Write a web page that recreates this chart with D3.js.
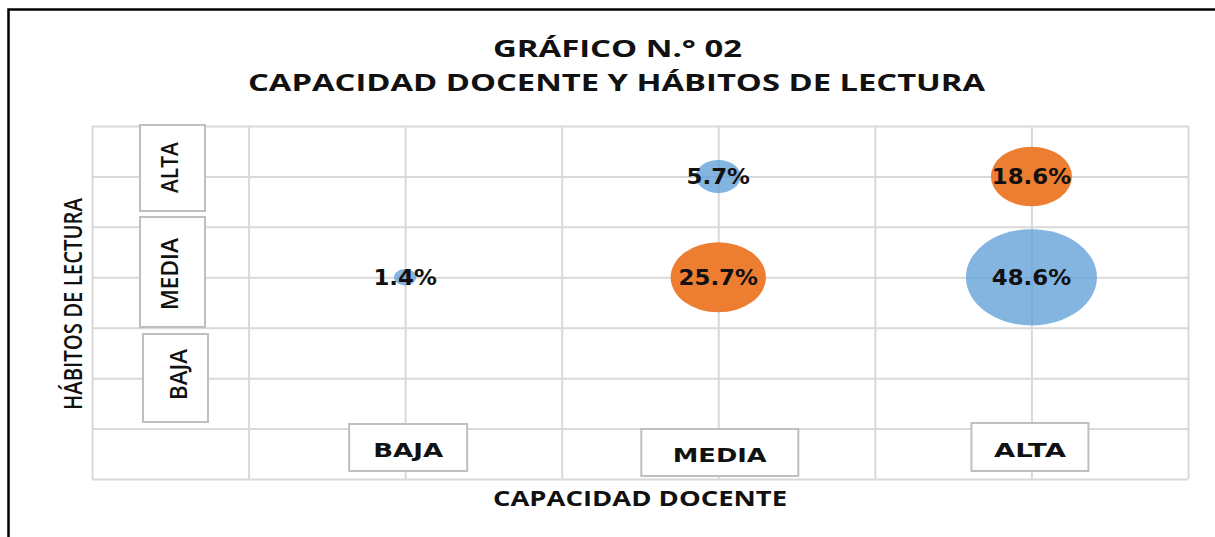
<!DOCTYPE html>
<html>
<head>
<meta charset="utf-8">
<script src="https://cdn.jsdelivr.net/npm/d3@7"></script>
<style>
  body { margin: 0; background: #fff; }
  svg { display: block; }
</style>
</head>
<body>
<div id="chart"></div>
<script>
// --- data ---
const capacidadCats = ["BAJA", "MEDIA", "ALTA"];   // x categories (positions 1..3)
const habitosCats = ["BAJA", "MEDIA", "ALTA"];     // y categories (positions 1..3)
const gridTicks = [0, 0.5, 1, 1.5, 2, 2.5, 3, 3.5];

// blue series (semi transparent) and orange series
const serieAzul = [
  { cap: "BAJA", hab: "MEDIA", value: 1.4 },
  { cap: "MEDIA", hab: "ALTA", value: 5.7 },
  { cap: "ALTA", hab: "MEDIA", value: 48.6 }
];
const serieNaranja = [
  { cap: "MEDIA", hab: "MEDIA", value: 25.7 },
  { cap: "ALTA", hab: "ALTA", value: 18.6 }
];

const titleLines = ["GRÁFICO N.° 02", "CAPACIDAD DOCENTE Y HÁBITOS DE LECTURA"];
const xTitle = "CAPACIDAD DOCENTE";
const yTitle = "HÁBITOS DE LECTURA";

// --- layout ---
const width = 1215, height = 537;
const plot = { left: 92, right: 1188, top: 126, bottom: 479 };

// manual label boxes (offsets from the category position)
const xBoxes = [
  { dx: 3, top: 424, w: 118, h: 47, tw: 70, base: 457 },
  { dx: 1.5, top: 429, w: 157, h: 47, tw: 94, base: 462 },
  { dx: -1.5, top: 423, w: 117, h: 48, tw: 72, base: 457 }
];
const yBoxes = [
  { x: 143, w: 65, cy: 378, h: 88, tl: 51, tx: 187, ty: 374.5 },
  { x: 140, w: 65, cy: 272, h: 110, tl: 72, tx: 178, ty: 274 },
  { x: 140, w: 65, cy: 168, h: 86, tl: 51, tx: 178, ty: 167.5 }
];

const svg = d3.select("#chart").append("svg")
  .attr("width", width)
  .attr("height", height);

// outer frame (only top and left visible in the picture)
svg.append("rect")
  .attr("x", 8.5).attr("y", 9.5)
  .attr("width", 1400).attr("height", 700)
  .attr("fill", "#fff")
  .attr("stroke", "#000")
  .attr("stroke-width", 2.5);

const x = d3.scaleLinear().domain([0, 3.5]).range([plot.left, plot.right]);
const y = d3.scaleLinear().domain([0, 3.5]).range([plot.bottom, plot.top]);
const rx = d3.scaleSqrt().domain([0, 48.6]).range([0, 65.5]);
const aspect = 0.735; // bubbles look squashed vertically

function fit(sel, w) {
  sel.attr("textLength", w).attr("lengthAdjust", "spacingAndGlyphs");
}

// gridlines from axes
const gridColor = "#d9d9d9";
const gx = svg.append("g")
  .attr("transform", `translate(0,${plot.bottom})`)
  .call(d3.axisBottom(x).tickValues(gridTicks).tickSize(-(plot.bottom - plot.top)).tickFormat(""));
const gy = svg.append("g")
  .attr("transform", `translate(${plot.left},0)`)
  .call(d3.axisLeft(y).tickValues(gridTicks).tickSize(-(plot.right - plot.left)).tickFormat(""));
[gx, gy].forEach(g => {
  g.select(".domain").remove();
  g.selectAll(".tick line").attr("stroke", gridColor).attr("stroke-width", 2);
});

// bubbles
const allPoints = serieAzul.map(d => ({ ...d, color: "#5B9BD5", op: 0.75 }))
  .concat(serieNaranja.map(d => ({ ...d, color: "#ED7D31", op: 1 })));

const xPos = d => x(capacidadCats.indexOf(d.cap) + 1);
const yPos = d => y(habitosCats.indexOf(d.hab) + 1);

svg.append("g")
  .selectAll("ellipse")
  .data(allPoints)
  .join("ellipse")
  .attr("cx", xPos)
  .attr("cy", yPos)
  .attr("rx", d => rx(d.value))
  .attr("ry", d => rx(d.value) * aspect)
  .attr("fill", d => d.color)
  .attr("fill-opacity", d => d.op);

// data labels
svg.append("g")
  .selectAll("text")
  .data(allPoints)
  .join("text")
  .attr("x", xPos)
  .attr("y", d => yPos(d) + 8)
  .attr("text-anchor", "middle")
  .attr("font-family", "DejaVu Sans, Verdana, sans-serif")
  .attr("font-weight", "bold")
  .attr("font-size", 21)
  .attr("fill", "#111")
  .text(d => d.value.toFixed(1) + "%")
  .each(function () {
    const L = this.getComputedTextLength();
    d3.select(this).call(fit, L * 1.09);
  });

// title
svg.append("g")
  .selectAll("text")
  .data(titleLines)
  .join("text")
  .attr("x", (d, i) => i === 0 ? 617.5 : 616.5)
  .attr("y", (d, i) => i === 0 ? 57 : 91)
  .attr("text-anchor", "middle")
  .attr("font-family", "Open Sans, sans-serif")
  .attr("font-weight", "bold")
  .attr("font-size", 23)
  .attr("fill", "#111")
  .text(d => d)
  .each(function (d, i) { d3.select(this).call(fit, i === 0 ? 249 : 737); });

// x category boxes
const xb = svg.append("g").selectAll("g")
  .data(capacidadCats)
  .join("g");
xb.append("rect")
  .attr("x", (d, i) => x(i + 1) + xBoxes[i].dx - xBoxes[i].w / 2)
  .attr("y", (d, i) => xBoxes[i].top)
  .attr("width", (d, i) => xBoxes[i].w)
  .attr("height", (d, i) => xBoxes[i].h)
  .attr("fill", "#fff")
  .attr("stroke", "#bfbfbf")
  .attr("stroke-width", 2);
xb.append("text")
  .attr("x", (d, i) => x(i + 1) + xBoxes[i].dx)
  .attr("y", (d, i) => xBoxes[i].base)
  .attr("text-anchor", "middle")
  .attr("font-family", "DejaVu Sans, Verdana, sans-serif")
  .attr("font-weight", "bold")
  .attr("font-size", 20)
  .attr("fill", "#111")
  .text(d => d)
  .each(function (d, i) { d3.select(this).call(fit, xBoxes[i].tw); });

// y category boxes (rotated text)
const yb = svg.append("g").selectAll("g")
  .data(habitosCats)
  .join("g");
yb.append("rect")
  .attr("x", (d, i) => yBoxes[i].x)
  .attr("y", (d, i) => yBoxes[i].cy - yBoxes[i].h / 2)
  .attr("width", (d, i) => yBoxes[i].w)
  .attr("height", (d, i) => yBoxes[i].h)
  .attr("fill", "#fff")
  .attr("stroke", "#bfbfbf")
  .attr("stroke-width", 2);
yb.append("text")
  .attr("transform", (d, i) => `translate(${yBoxes[i].tx},${yBoxes[i].ty}) rotate(-90)`)
  .attr("text-anchor", "middle")
  .attr("font-family", "Open Sans, sans-serif")
  .attr("font-weight", 600)
  .attr("font-size", 24)
  .attr("fill", "#111")
  .text(d => d)
  .each(function (d, i) { d3.select(this).call(fit, yBoxes[i].tl); });

// axis titles
svg.append("text")
  .attr("x", 640)
  .attr("y", 506)
  .attr("text-anchor", "middle")
  .attr("font-family", "Open Sans, sans-serif")
  .attr("font-weight", "bold")
  .attr("font-size", 21)
  .attr("fill", "#111")
  .text(xTitle)
  .call(fit, 294);

svg.append("text")
  .attr("transform", "translate(82,304) rotate(-90)")
  .attr("text-anchor", "middle")
  .attr("font-family", "Open Sans, sans-serif")
  .attr("font-weight", 600)
  .attr("font-size", 25)
  .attr("fill", "#111")
  .text(yTitle)
  .call(fit, 212);
</script>
</body>
</html>
